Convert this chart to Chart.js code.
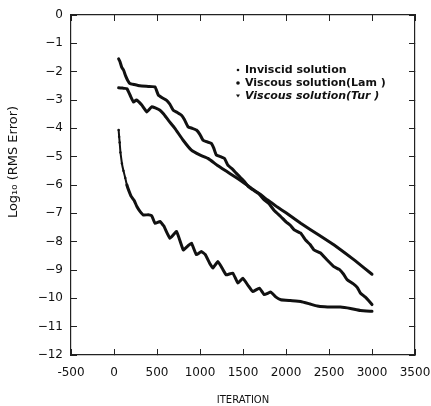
<!DOCTYPE html>
<html>
<head>
<meta charset="utf-8">
<script src="https://cdn.jsdelivr.net/npm/chart.js@4.4.1/dist/chart.umd.min.js"></script>
<style>
  html, body { margin: 0; padding: 0; background: #fff; }
  #wrap { width: 431px; height: 406px; }
</style>
</head>
<body>
<div id="wrap"><canvas id="rmsChart"></canvas></div>
<script>
// convergence histories
const seriesNames = ["Inviscid solution", "Viscous solution(Lam )", "Viscous solution(Tur )"];

const invIter = [54, 70, 90, 112, 135, 158, 185, 227, 300, 400, 477, 516, 560, 612, 650, 689, 740, 785, 820, 862, 910, 958, 1000, 1035, 1085, 1132, 1160, 1189, 1240, 1285, 1324, 1380, 1420, 1478, 1516, 1560, 1620, 1680, 1747, 1800, 1863, 1940, 2000, 2050, 2094, 2171, 2230, 2280, 2325, 2402, 2470, 2556, 2620, 2670, 2710, 2780, 2830, 2864, 2920, 2960, 3000];
const invErr = [-1.55, -1.65, -1.85, -1.95, -2.15, -2.30, -2.42, -2.45, -2.50, -2.52, -2.54, -2.83, -2.92, -3.01, -3.15, -3.36, -3.45, -3.54, -3.70, -3.95, -4.00, -4.06, -4.22, -4.42, -4.48, -4.53, -4.70, -4.94, -5.00, -5.06, -5.30, -5.45, -5.58, -5.76, -5.88, -6.05, -6.18, -6.30, -6.53, -6.65, -6.90, -7.12, -7.30, -7.42, -7.58, -7.70, -7.95, -8.10, -8.29, -8.40, -8.62, -8.88, -8.98, -9.15, -9.34, -9.48, -9.62, -9.81, -9.95, -10.08, -10.22];

const lamIter = [54, 100, 150, 190, 227, 260, 323, 381, 439, 480, 535, 580, 631, 708, 804, 900, 997, 1093, 1200, 1300, 1401, 1500, 1600, 1700, 1786, 1900, 2000, 2171, 2400, 2556, 2800, 3000];
const lamErr = [-2.57, -2.58, -2.60, -2.85, -3.07, -3.00, -3.18, -3.42, -3.24, -3.28, -3.36, -3.50, -3.71, -4.00, -4.42, -4.77, -4.94, -5.06, -5.30, -5.50, -5.70, -5.90, -6.12, -6.33, -6.53, -6.78, -6.98, -7.35, -7.80, -8.11, -8.66, -9.15];

const turIter = [54, 60, 66, 75, 92, 110, 131, 150, 170, 200, 235, 266, 300, 343, 400, 439, 477, 535, 580, 650, 727, 805, 860, 900, 958, 1016, 1060, 1112, 1150, 1208, 1260, 1304, 1382, 1440, 1497, 1560, 1613, 1690, 1747, 1824, 1880, 1940, 2050, 2171, 2280, 2364, 2450, 2517, 2633, 2750, 2864, 3000];
const turErr = [-4.06, -4.30, -4.50, -4.85, -5.24, -5.50, -5.75, -6.00, -6.18, -6.40, -6.55, -6.76, -6.92, -7.06, -7.05, -7.09, -7.35, -7.29, -7.45, -7.88, -7.64, -8.29, -8.15, -8.05, -8.46, -8.35, -8.45, -8.76, -8.93, -8.70, -8.95, -9.17, -9.11, -9.46, -9.29, -9.55, -9.76, -9.64, -9.87, -9.78, -9.95, -10.05, -10.08, -10.11, -10.20, -10.27, -10.30, -10.31, -10.31, -10.36, -10.43, -10.46];

const xTicks = [-500, 0, 500, 1000, 1500, 2000, 2500, 3000, 3500];
const yTicks = [0, -1, -2, -3, -4, -5, -6, -7, -8, -9, -10, -11, -12];

const toPts = (xs, ys) => xs.map((v, i) => ({x: v, y: ys[i]}));
const ink = "#111";

// frame on all four sides, tick marks pointing into the plot (negative length)
const frameGrid = {display: true, drawOnChartArea: false, drawTicks: true, tickLength: -6, color: "#222", lineWidth: 1};
const frameBorder = {display: true, color: "#222", width: 1.2};
const tickFont = {family: "DejaVu Sans", size: 12};

// label padding would otherwise push the plot area in; layout.padding handles overflow
const noPad = s => { s.paddingLeft = 0; s.paddingRight = 0; s.paddingTop = 0; s.paddingBottom = 0; };

// rotated y title (sits above centre in the original) and the in-plot legend
const extras = {
  id: "extras",
  afterDraw(chart) {
    const {ctx} = chart;
    ctx.save();
    ctx.fillStyle = ink;
    ctx.font = '13px "DejaVu Sans"';
    ctx.textAlign = "center";
    ctx.textBaseline = "middle";
    ctx.translate(14, 162);
    ctx.rotate(-Math.PI / 2);
    ctx.fillText("Log\u2081\u2080 (RMS Error)", 0, 0);
    ctx.restore();

    ctx.save();
    ctx.fillStyle = ink;
    ctx.textBaseline = "middle";
    chart.data.datasets.forEach((ds, i) => {
      const yy = 70 + i * 13;
      ctx.font = (i === 2 ? "italic " : "") + 'bold 11px "DejaVu Sans"';
      ctx.fillText(ds.label, 245, yy);
      ctx.beginPath();
      if (i === 2) {
        ctx.moveTo(236, yy - 1.5); ctx.lineTo(240, yy - 1.5); ctx.lineTo(238, yy + 1.5);
        ctx.closePath();
      } else {
        ctx.arc(238, yy, i === 1 ? 1.8 : 1.3, 0, Math.PI * 2);
      }
      ctx.fill();
    });
    ctx.restore();
  }
};

new Chart(document.getElementById("rmsChart"), {
  type: "line",
  data: {
    datasets: [{
      label: seriesNames[0],
      data: toPts(invIter, invErr),
      borderColor: ink,
      borderWidth: 3
    }, {
      label: seriesNames[1],
      data: toPts(lamIter, lamErr),
      borderColor: ink,
      borderWidth: 3
    }, {
      label: seriesNames[2],
      data: toPts(turIter, turErr),
      borderColor: ink,
      backgroundColor: ink,
      borderWidth: 3,
      pointRadius: c => c.raw && c.raw.x < 160 ? 1.2 : 0,
      pointBorderWidth: 0,
      segment: {
        borderWidth: c => c.p0.parsed.x < 150 ? 2 : 3
      }
    }]
  },
  options: {
    responsive: true,
    maintainAspectRatio: false,
    animation: false,
    layout: {padding: {left: 0, right: 16, top: 15, bottom: 0}},
    elements: {
      point: {radius: 0, borderWidth: 0},
      line: {tension: 0.1, borderCapStyle: "round", borderJoinStyle: "round"}
    },
    scales: {
      x: {
        type: "linear",
        min: -500,
        max: 3500,
        afterBuildTicks: s => { s.ticks = xTicks.map(v => ({value: v})); },
        afterFit: s => { s.height = 51; noPad(s); },
        grid: frameGrid,
        border: frameBorder,
        ticks: {color: ink, font: tickFont, padding: 17, maxRotation: 0,
          callback: v => String(v)},
        title: {display: true, text: "ITERATION", color: ink,
          font: {family: "DejaVu Sans", size: 10}, padding: {top: 10, bottom: 0}}
      },
      x2: {
        type: "linear",
        axis: "x",
        position: "top",
        min: -500,
        max: 3500,
        afterBuildTicks: s => { s.ticks = xTicks.map(v => ({value: v})); },
        afterFit: s => { s.height = 0; noPad(s); },
        grid: frameGrid,
        border: frameBorder,
        ticks: {display: false}
      },
      y: {
        min: -12,
        max: 0,
        afterBuildTicks: s => { s.ticks = yTicks.map(v => ({value: v})); },
        afterFit: s => { s.width = 71; noPad(s); },
        grid: frameGrid,
        border: frameBorder,
        ticks: {color: ink, font: tickFont, padding: 14,
          callback: v => v < 0 ? "\u2212" + Math.abs(v) : String(v)}
      },
      y2: {
        type: "linear",
        axis: "y",
        position: "right",
        min: -12,
        max: 0,
        afterBuildTicks: s => { s.ticks = yTicks.map(v => ({value: v})); },
        afterFit: s => { s.width = 0; noPad(s); },
        grid: frameGrid,
        border: frameBorder,
        ticks: {display: false}
      }
    },
    plugins: {
      legend: {display: false},
      tooltip: {enabled: false}
    }
  },
  plugins: [extras]
});
</script>
</body>
</html>
